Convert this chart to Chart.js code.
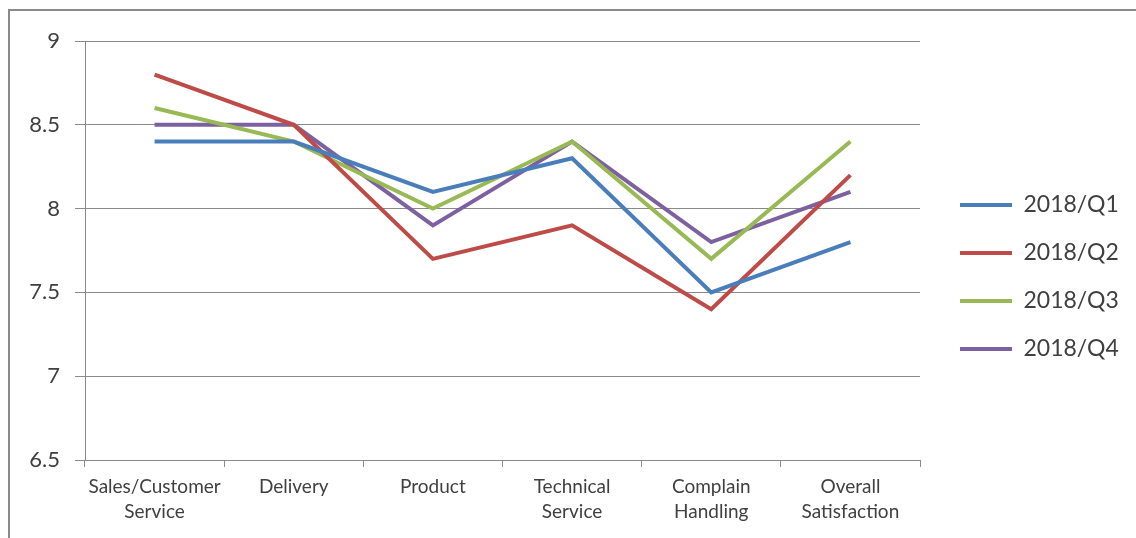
<!DOCTYPE html>
<html>
<head>
<meta charset="utf-8">
<script src="https://cdn.jsdelivr.net/npm/chart.js@4"></script>
<style>
  body { margin: 0; background: #fff; overflow: hidden; }
  #frame { position: absolute; left: 8px; top: 9px; width: 1200px; height: 600px; border: 2px solid #8a8a8a; box-sizing: border-box; }
  #myChart { position: absolute; left: 0; top: 0; }
</style>
</head>
<body>
<div id="frame"></div>
<canvas id="myChart" width="1136" height="538"></canvas>
<script>
const categories = [
  ['Sales/Customer', 'Service'],
  'Delivery',
  'Product',
  ['Technical', 'Service'],
  ['Complain', 'Handling'],
  ['Overall', 'Satisfaction']
];
const seriesNames = ['2018/Q1', '2018/Q2', '2018/Q3', '2018/Q4'];
const q1 = [8.4, 8.4, 8.1, 8.3, 7.5, 7.8];
const q2 = [8.8, 8.5, 7.7, 7.9, 7.4, 8.2];
const q3 = [8.6, 8.4, 8.0, 8.4, 7.7, 8.4];
const q4 = [8.5, 8.5, 7.9, 8.4, 7.8, 8.1];
const colors = ['#4a7ebb', '#be4b48', '#98b954', '#7d60a0'];

window.onload = () => {
  const ctx = document.querySelector('#myChart').getContext('2d');
  const datasets = [q1, q2, q3, q4].map((data, i) => ({
    label: seriesNames[i],
    data,
    borderColor: colors[i],
    backgroundColor: colors[i],
    borderWidth: 4,
    pointRadius: 0,
    tension: 0
  }));

  // nudge the legend to where it sits in the original
  const legendShift = {
    id: 'legendShift',
    afterLayout: (chart) => {
      chart.legend.left += 15;
      chart.legend.right += 15;
      chart.legend.top -= 9;
      chart.legend.bottom -= 9;
    }
  };

  const chart = new Chart(ctx, {
    type: 'line',
    data: { labels: categories, datasets },
    options: {
      responsive: false,
      animation: false,
      devicePixelRatio: 1,
      layout: { padding: { left: 0, top: 41, right: 0, bottom: 7 } },
      plugins: {
        tooltip: { enabled: false },
        legend: {
          position: 'right',
          labels: {
            boxWidth: 52,
            boxHeight: 4,
            padding: 25,
            color: '#404040',
            font: { family: 'Lato', size: 23 },
            generateLabels: (c) => {
              const items = Chart.defaults.plugins.legend.labels.generateLabels(c);
              items.forEach(it => { it.lineWidth = 0; });
              return items;
            }
          }
        }
      },
      scales: {
        x: {
          offset: true,
          grid: { offset: true, drawOnChartArea: false, color: '#8a8a8a', tickLength: 7 },
          border: { color: '#8a8a8a' },
          ticks: { color: '#404040', font: { family: 'Lato', size: 19, lineHeight: '25px' }, maxRotation: 0, autoSkip: false, padding: 7 }
        },
        y: {
          min: 6.5,
          max: 9,
          grid: { color: '#8a8a8a', tickLength: 10 },
          border: { color: '#8a8a8a' },
          ticks: { stepSize: 0.5, color: '#404040', font: { family: 'Lato', size: 22 }, padding: 15, callback: (v) => String(v) },
          afterFit: (scale) => { scale.width = 85; }
        }
      }
    },
    plugins: [legendShift]
  });

  // make the legend column wider so the plot ends where the original does
  const origFit = chart.legend.fit;
  chart.legend.fit = function () {
    origFit.call(this);
    const area = 1136 - 920;
    if (this.width < area) this.width = area;
  };
  chart.update();
};
</script>
</body>
</html>
